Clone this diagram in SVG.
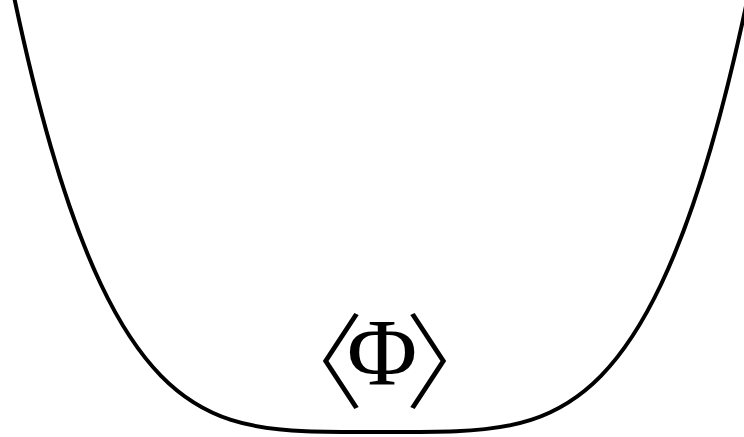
<svg xmlns="http://www.w3.org/2000/svg" width="744" height="437" viewBox="0 0 744 437">
<style>
.curve{fill:none;stroke:#000;stroke-width:4;stroke-linecap:round}
.lbl{font-family:"Liberation Serif","DejaVu Serif",serif;fill:#000}
.br{font-family:"Noto Sans CJK SC",sans-serif;font-weight:300}
</style>
<rect width="744" height="437" fill="#fff"/>
<g id="potential">
<path class="curve" d="M10,-22.7 C23.667,44.3 37.333,100.25 51,147.4 C67.667,204.9 84.333,249.38 101,284.5 C121,326.64 141,355.36 161,375.8 C184.333,399.65 207.667,412.29 231,419.85 C256,427.95 281,430.23 306,431.24 C331,432.1 356,432 381,432 C406,432 431,432.1 456,431.24 C481,430.23 506,427.95 531,419.85 C554.333,412.29 577.667,399.65 601,375.8 C621,355.36 641,326.64 661,284.5 C677.667,249.38 694.333,204.9 711,147.4 C724.667,100.25 738.333,44.3 752,-22.7"/>
</g>
<g id="label">
<text class="lbl" text-anchor="middle"><tspan class="br" x="312" y="401" font-size="104">〈</tspan><tspan x="382" y="385" font-size="96">Φ</tspan><tspan class="br" x="457" y="401" font-size="104">〉</tspan></text>
</g>
</svg>
